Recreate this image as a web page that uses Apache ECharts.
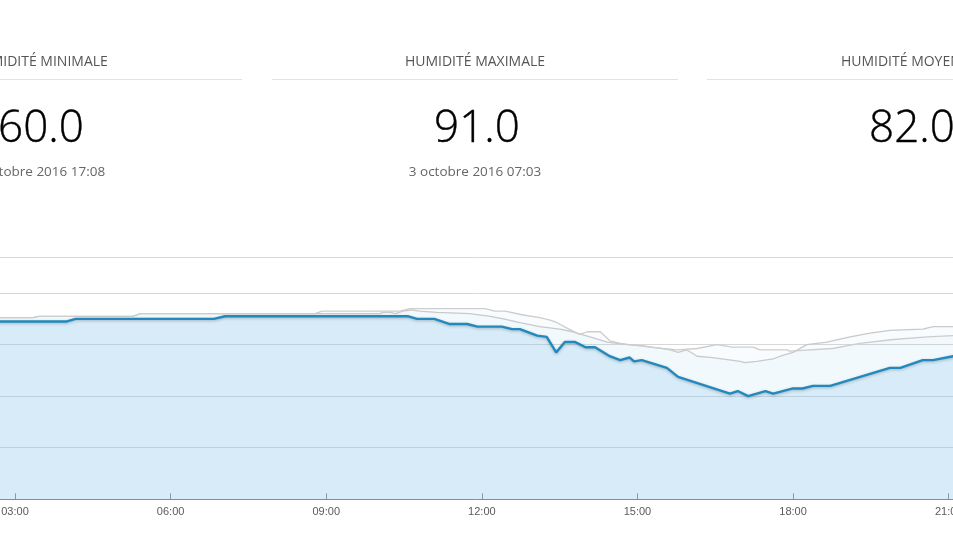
<!DOCTYPE html>
<html><head><meta charset="utf-8">
<script src="https://cdn.jsdelivr.net/npm/echarts@6/dist/echarts.min.js"></script>
<style>html,body{margin:0;padding:0;background:#fff;}#c{width:953px;height:536px;}</style>
</head><body><div id="c"></div>
<script>
// ---- data ----
const panelTitles = ['HUMIDITÉ MINIMALE', 'HUMIDITÉ MAXIMALE', 'HUMIDITÉ MOYENNE'];
const panelValues = ['60.0', '91.0', '82.0'];
const panelDates = ['3 octobre 2016 17:08', '3 octobre 2016 07:03', ''];

const xTickHours = [0, 3, 6, 9, 12, 15, 18, 21, 24];

const currentTimes = ['02:30','04:00','04:10','06:50','07:03','10:35','10:45','11:05','11:23','11:43','11:55','12:23','12:35','12:44','13:04','13:15','13:26','13:36','13:48','14:00','14:11','14:28','14:40','14:51','14:56','15:05','15:34','15:47','16:47','16:56','17:08','17:28','17:37','18:00','18:11','18:23','18:43','19:52','20:04','20:30','20:42','21:05','21:20'];
const currentValues = [89,89,90,90,91,91,90,90,88,88,87,87,86,86,83.5,83,77,81,81,79,79,75.5,74,75,73.5,74,71,67.5,61,62,60,62,61,63,63,64,64,71,71,74,74,75.5,76];

const compareATimes = ['02:30','03:21','03:27','05:16','05:25','08:47','08:55','10:25','10:37','12:04','12:15','12:27','12:48','13:07','13:19','13:27','13:38','13:53','14:02','14:17','14:28','14:40','14:51','15:15','15:46','16:09','16:32','16:50','17:14','17:22','17:53','17:56','18:46','19:17','19:56','20:35','21:05','21:20'];
const compareAValues = [90.5,90.5,91,91,92,92,93,93,94,94,93,93,91.5,90.5,89.5,88.5,86.5,84,85,85,81.5,80.5,80,79,78,78.5,80,79,79,78,78,77.5,78.5,80.5,82,83,83.5,83.5];

const compareBTimes = ['02:30','03:21','03:27','05:16','05:25','08:47','10:02','10:06','10:14','10:20','10:29','10:39','10:48','11:08','11:46','12:10','12:25','12:44','13:07','13:30','13:45','14:05','14:25','14:48','15:07','15:38','15:47','15:57','16:09','16:27','16:59','17:04','17:18','17:37','17:45','18:00','18:16','18:39','19:06','19:29','19:52','20:30','20:42','21:05','21:20'];
const compareBValues = [90.5,90.5,91,91,92,92,92,92.5,92.5,92,93,93.5,93,92.5,92,91,90,88.5,87,86,85,83,81,80,79.5,78,77,78,75.5,75,73.5,73,73.5,74.5,75.5,77,80,81,83,84.5,85.5,86,87,87,87];

// ---- helpers ----
function toHours(t) { const p = t.split(':'); return +p[0] + (+p[1]) / 60; }
function pairs(times, vals) { return times.map((t, i) => [toHours(t), vals[i]]); }
function pad(n) { return (n < 10 ? '0' : '') + n; }

const chart = echarts.init(document.getElementById('c'), null, { renderer: 'canvas' });

const panelCenters = [39, 475, 910];
const panelSpans = [[-164, 242], [272, 678], [707, 1113]];
const graphics = [];
panelTitles.forEach((t, i) => {
  graphics.push({ type: 'text', x: panelCenters[i], y: 62, silent: true,
    style: { text: t, align: 'center', verticalAlign: 'middle', fontFamily: '"Open Sans", sans-serif', fontSize: 14, fill: '#555' } });
  graphics.push({ type: 'line', silent: true,
    shape: { x1: panelSpans[i][0], y1: 79.5, x2: panelSpans[i][1], y2: 79.5 },
    style: { stroke: '#e2e2e2', lineWidth: 1 } });
  graphics.push({ type: 'text', x: panelCenters[i] + 2, y: 129, silent: true,
    style: { text: panelValues[i], align: 'center', verticalAlign: 'middle', fontFamily: '"Open Sans", sans-serif', fontWeight: 300, fontSize: 44, fill: '#000', stroke: '#000', lineWidth: 0.4 } });
  if (panelDates[i]) graphics.push({ type: 'text', x: panelCenters[i], y: 172, silent: true,
    style: { text: panelDates[i], align: 'center', verticalAlign: 'middle', fontFamily: '"Open Sans", sans-serif', fontSize: 13.5, fill: '#666' } });
});

chart.setOption({
  animation: false,
  backgroundColor: '#fff',
  graphic: graphics,
  grid: { left: -140.6, right: -151.3, top: 257, bottom: 36.7, containLabel: false, outerBoundsMode: 'none' },
  xAxis: {
    type: 'value', min: xTickHours[0], max: xTickHours[xTickHours.length - 1], interval: 3,
    axisLine: { lineStyle: { color: '#8c8c8c', width: 1 } },
    axisTick: { inside: true, length: 6, lineStyle: { color: '#8c8c8c' } },
    axisLabel: { color: '#5a5a5a', fontSize: 11, margin: 7, fontFamily: '"Liberation Sans", Arial, sans-serif', formatter: v => pad(v) + ':00' },
    splitLine: { show: false }
  },
  yAxis: {
    type: 'value', min: 20, max: 114, interval: 20,
    axisLine: { show: false }, axisTick: { show: false }, axisLabel: { show: false },
    splitLine: { lineStyle: { color: '#d8d8d8', width: 1 } }
  },
  series: [
    { type: 'line', data: pairs(compareBTimes, compareBValues), showSymbol: false, z: 2,
      lineStyle: { color: '#c9c9c9', width: 1.3 },
      areaStyle: { color: 'rgba(132,192,232,0.08)' } },
    { type: 'line', data: pairs(compareATimes, compareAValues), showSymbol: false, z: 2,
      lineStyle: { color: '#cdcdcd', width: 1.3 },
      areaStyle: { color: 'rgba(132,192,232,0.08)' } },
    { type: 'line', data: pairs(currentTimes, currentValues), showSymbol: false, z: 3,
      lineStyle: { color: '#2189bd', width: 2.4, shadowColor: 'rgba(0,0,0,0.25)', shadowBlur: 3, shadowOffsetY: 1 },
      areaStyle: { color: 'rgba(120,186,230,0.3)' } }
  ]
});
</script></body></html>
